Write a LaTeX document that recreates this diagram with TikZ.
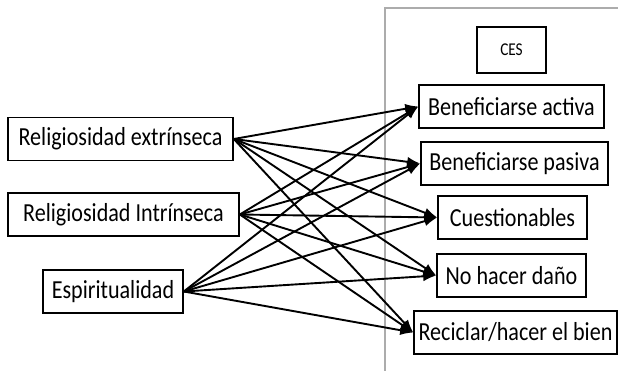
\documentclass[tikz,border=0pt]{standalone}
\usepackage{fontspec}
\setmainfont{Carlito}[FakeStretch=0.85]
\usepackage{tikz}
\usetikzlibrary{arrows.meta,positioning}

\begin{document}
\begin{tikzpicture}[
        x=1pt, y=1pt,
        >={Latex[length=13pt,width=10pt]},
        font=\fontsize{26}{28}\selectfont,
        box/.style={
            rectangle,
            draw=black,
            line width=1.6pt,
            fill=white,
            inner sep=2pt,
            minimum height=43pt,
            text centered
        },
        line/.style={
            draw,
            ->,
            line width=1.9pt
        },
        frame/.style={
            draw=gray!65,
            line width=1.4pt
        }
    ]
    \useasboundingbox (0,0) rectangle (618,371);

    % Frame of the CES side
    \draw [frame] (385,-10) rectangle (640,363);

    % Nodes
    \node [box, minimum width=225pt] (relext) at (120.5,232) {Religiosidad extrínseca};
    \node [box, minimum width=231pt] (relint) at (123.5,156.5) {Religiosidad Intrínseca};
    \node [box, minimum width=140pt] (espir) at (113,79.5) {Espiritualidad};

    \node [box, minimum width=69pt, minimum height=46pt, font=\fontsize{18}{20}\selectfont] (ces) at (511.5,321) {CES};
    \node [box, minimum width=185pt] (benact) at (511.5,264.5) {Beneficiarse activa};
    \node [box, minimum width=187pt] (benpas) at (514.5,207.5) {Beneficiarse pasiva};
    \node [box, minimum width=149pt] (cuest) at (512.5,153.5) {Cuestionables};
    \node [box, minimum width=149pt] (nodano) at (511.5,95.5) {No hacer daño};
    \node [box, minimum width=203pt] (recic) at (515.5,38.5) {Reciclar/hacer el bien};

    % Connections
    \foreach \src in {relext,relint,espir}
        \foreach \dst in {benact,benpas,cuest,nodano,recic}
            \path [line] (\src.east) -- (\dst.west);

\end{tikzpicture}
\end{document}
